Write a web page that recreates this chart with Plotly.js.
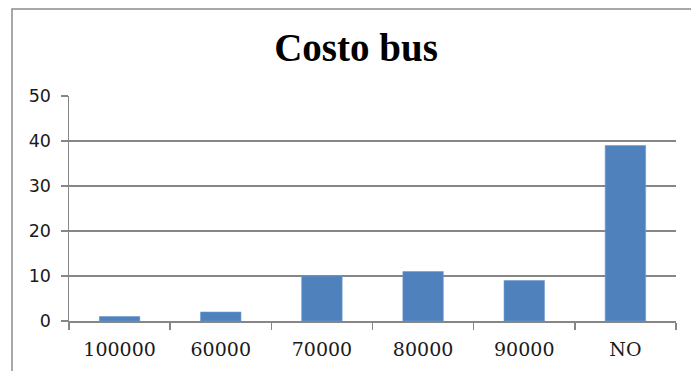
<!DOCTYPE html>
<html>
<head>
<meta charset="utf-8">
<script src="https://cdn.plot.ly/plotly-3.0.1.min.js"></script>
<style>
  html, body { margin: 0; padding: 0; background: #ffffff; }
  #chart { width: 691px; height: 371px; }
</style>
</head>
<body>
<div id="chart"></div>
<script>
// Bus fare answers and how many people gave each one
const categories = ['100000', '60000', '70000', '80000', '90000', 'NO'];
const counts = [1, 2, 10, 11, 9, 39];
const yTicks = [0, 10, 20, 30, 40, 50];

const axisGray = '#868686';

const trace = {
  type: 'bar',
  x: categories,
  y: counts,
  marker: { color: '#4F81BD', line: { color: '#6f9ad0', width: 0.6 } },
  hoverinfo: 'x+y'
};

// Plot area spans pixels 69..676 horizontally and 96..321 vertically;
// the outer frame is expressed in paper units relative to that area.
const L = 69, R = 15, T = 96, B = 50, W = 691, H = 371;
const pw = W - L - R, ph = H - T - B;
const px = v => (v - L) / pw;
const py = v => (H - B - v) / ph;

const layout = {
  width: W,
  height: H,
  margin: { l: L, r: R, t: T, b: B, pad: 0 },
  paper_bgcolor: '#ffffff',
  plot_bgcolor: '#ffffff',
  showlegend: false,
  bargap: 0.6,
  title: {
    text: '<b>Costo bus</b>',
    font: { family: 'Liberation Serif, serif', size: 39, color: '#000000' },
    x: 356 / W,
    xref: 'container',
    xanchor: 'center',
    y: 1 - 47 / H,
    yref: 'container',
    yanchor: 'middle'
  },
  xaxis: {
    type: 'category',
    showline: true,
    linecolor: axisGray,
    linewidth: 1.5,
    ticks: 'outside',
    tickson: 'boundaries',
    ticklen: 7,
    tickwidth: 1.5,
    tickcolor: axisGray,
    showgrid: false,
    tickfont: { family: 'DejaVu Serif, serif', size: 19, color: '#1a1a1a' },
    ticklabelstandoff: 11
  },
  yaxis: {
    range: [0, 50],
    tickvals: yTicks,
    ticktext: yTicks.map(String),
    showline: true,
    linecolor: axisGray,
    linewidth: 1.5,
    ticks: 'outside',
    ticklen: 7,
    tickwidth: 1.5,
    tickcolor: axisGray,
    showgrid: true,
    gridcolor: axisGray,
    gridwidth: 1.3,
    zeroline: false,
    tickfont: { family: 'DejaVu Sans, sans-serif', size: 17.5, color: '#1a1a1a' },
    ticklabelstandoff: 6
  },
  shapes: [{
    type: 'rect',
    xref: 'paper', yref: 'paper',
    x0: px(12), x1: px(W + 20),
    y0: py(H + 20), y1: py(9),
    line: { color: '#8c8c8c', width: 1.5 },
    fillcolor: 'rgba(0,0,0,0)',
    layer: 'below'
  }]
};

Plotly.newPlot('chart', [trace], layout, { displayModeBar: false, staticPlot: true });
</script>
</body>
</html>
